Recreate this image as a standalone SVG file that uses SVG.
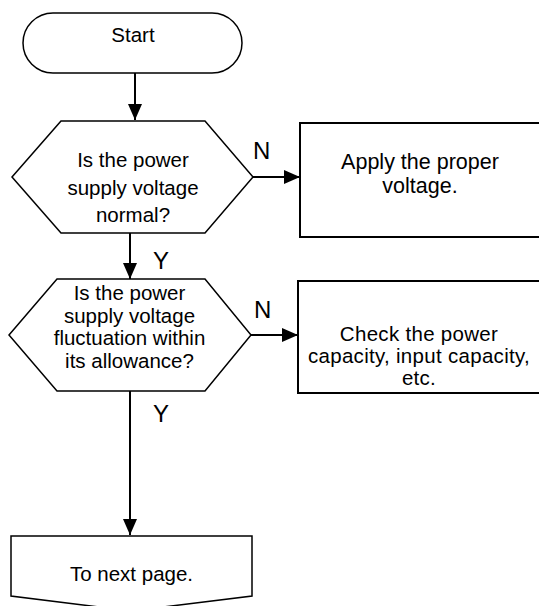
<svg xmlns="http://www.w3.org/2000/svg" width="539" height="606" viewBox="0 0 539 606">
<style>
.shape{fill:#fff;stroke:#000;stroke-width:1.5}
.box{fill:#fff;stroke:#000;stroke-width:2}
.t{font-family:"Liberation Sans",Arial,sans-serif;font-size:20.5px;fill:#000;text-anchor:middle}
.bt{font-size:21.5px}
.lbl{font-family:"Liberation Sans",Arial,sans-serif;font-size:24px;fill:#000}
.conn{stroke:#000;stroke-width:2;fill:none;marker-end:url(#arr)}
</style>
<defs>
<marker id="arr" markerUnits="userSpaceOnUse" markerWidth="16" markerHeight="14" refX="16" refY="7" orient="auto">
<path d="M0,0 L16,7 L0,14 z" fill="#000"/>
</marker>
</defs>
<rect width="539" height="606" fill="#fff"/>
<g id="start">
<rect class="shape" x="23" y="13" width="219" height="60" rx="30" ry="30"/>
<text class="t" x="133" y="42">Start</text>
</g>
<g id="decision1">
<polygon class="shape" points="12,177 61,121 205,121 253,177 205,233 61,233"/>
<text class="t" x="133" y="166.5">Is the power</text>
<text class="t" x="133" y="194.5">supply voltage</text>
<text class="t" x="133" y="222">normal?</text>
</g>
<g id="apply">
<rect class="box" x="300" y="123" width="260" height="114"/>
<text class="t bt" x="420" y="169">Apply the proper</text>
<text class="t bt" x="420" y="193">voltage.</text>
</g>
<g id="decision2">
<polygon class="shape" points="9,335 57,279 205,279 251,335 205,391 57,391"/>
<text class="t" x="129.5" y="300">Is the power</text>
<text class="t" x="129.5" y="322.5">supply voltage</text>
<text class="t" x="129.5" y="345">fluctuation within</text>
<text class="t" x="129.5" y="367.5">its allowance?</text>
</g>
<g id="check">
<rect class="box" x="298" y="281" width="262" height="112"/>
<text class="t" x="419" y="341" letter-spacing="0.3">Check the power</text>
<text class="t" x="419" y="363" letter-spacing="0.3">capacity, input capacity,</text>
<text class="t" x="419" y="384.5" letter-spacing="0.3">etc.</text>
</g>
<g id="nextpage">
<polygon class="shape" points="11,536 252,536 252,596 131,611 11,596"/>
<text class="t" x="131.5" y="581">To next page.</text>
</g>
<g id="connectors">
<line class="conn" x1="135" y1="73" x2="135" y2="120"/>
<line class="conn" x1="253" y1="177" x2="300" y2="177"/>
<line class="conn" x1="130" y1="233" x2="130" y2="279"/>
<line class="conn" x1="251" y1="335" x2="298" y2="335"/>
<line class="conn" x1="130" y1="391" x2="130" y2="535"/>
<text class="lbl" x="253" y="159">N</text>
<text class="lbl" x="153" y="269">Y</text>
<text class="lbl" x="254" y="318">N</text>
<text class="lbl" x="153" y="422">Y</text>
</g>
</svg>
